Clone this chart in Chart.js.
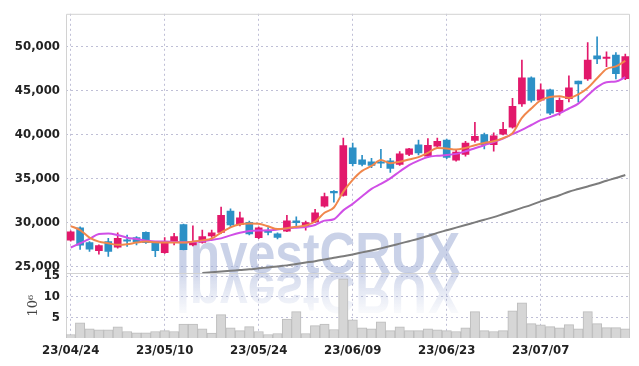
<!DOCTYPE html>
<html>
<head>
<meta charset="utf-8">
<script src="https://cdn.jsdelivr.net/npm/chart.js@4.4.1/dist/chart.umd.min.js"></script>
<style>
  html, body { margin: 0; padding: 0; background: #fff; }
</style>
</head>
<body>
<canvas id="c" width="639" height="366"></canvas>
<script>
// trading days (yy/mm/dd)
const dates = [
  "23/04/24","23/04/25","23/04/26","23/04/27","23/04/28","23/05/02","23/05/03","23/05/04","23/05/08","23/05/09",
  "23/05/10","23/05/11","23/05/12","23/05/15","23/05/16","23/05/17","23/05/18","23/05/19","23/05/22","23/05/23",
  "23/05/24","23/05/25","23/05/26","23/05/30","23/05/31","23/06/01","23/06/02","23/06/05","23/06/07","23/06/08",
  "23/06/09","23/06/12","23/06/13","23/06/14","23/06/15","23/06/16","23/06/19","23/06/20","23/06/21","23/06/22",
  "23/06/23","23/06/26","23/06/27","23/06/28","23/06/29","23/06/30","23/07/03","23/07/04","23/07/05","23/07/06",
  "23/07/07","23/07/10","23/07/11","23/07/12","23/07/13","23/07/14","23/07/17","23/07/18","23/07/19","23/07/20"
];

const opens = [
  27960,29380,27700,26770,27810,27170,28000,28260,28860,27700,
  26540,27700,29750,27440,27730,28450,28860,31290,29750,30000,
  28260,29050,28700,29000,30170,29610,30060,31860,33540,33060,
  38490,37130,36910,36910,37030,36610,37760,38830,37560,38700,
  39380,37100,37740,39350,40000,38860,40060,40850,43500,46470,
  43920,45120,42610,44110,46110,46360,48980,48700,49070,46370
];
const highs = [
  29050,29500,27810,27440,28180,28820,28560,28370,28930,27700,
  28260,28740,29800,29610,29130,29130,31740,31550,31180,30140,
  29500,29420,28820,30810,30620,30140,31500,33350,33620,39610,
  39050,37650,37300,38330,37300,38080,38450,39380,39560,39610,
  39500,38250,39240,41410,40170,40200,41410,44150,48490,46580,
  45790,45200,44190,46690,46110,50480,51160,49440,49360,49170
];
const lows = [
  27850,26910,26690,26380,26120,27060,27250,27440,27590,26090,
  26460,27440,26850,27330,27620,28290,28740,29500,29610,28560,
  28150,28560,28110,28930,29610,29100,29980,31740,32300,32980,
  36430,36430,36250,36240,35700,36500,37590,37680,37400,38520,
  37270,36990,37550,39140,38380,38120,39980,40740,43220,43700,
  43830,42270,42210,43730,43700,46170,48100,47760,46360,46280
];
const closes = [
  28930,27390,26950,27360,26690,28180,27850,27810,27700,26770,
  27660,28370,26900,27730,28370,28820,30810,29700,30510,28680,
  29380,28850,28300,30170,29980,29980,31100,32950,33350,38750,
  36700,36610,36480,36750,36160,37810,38380,37930,38790,39240,
  37400,38000,39050,39800,38860,39870,40620,43240,46470,43890,
  45120,42460,43920,45350,45790,48490,48640,48850,46960,48900
];

// volume, millions of shares
const volumes = [
  0.84,3.66,2.2,1.97,1.97,2.7,1.57,1.25,1.25,1.57,
  1.8,1.57,3.4,3.4,2.2,1.2,5.66,2.45,1.8,2.77,
  1.57,0.84,1.08,4.6,6.4,1.08,3.0,3.4,2.05,14.3,
  4.4,2.45,2.2,3.9,1.8,2.7,1.8,1.8,2.25,1.97,
  1.8,1.57,2.45,6.4,1.8,1.57,1.8,6.6,8.5,3.5,
  3.2,2.77,2.45,3.25,2.2,6.4,3.5,2.5,2.5,2.2
];

// moving averages
const maShort = [
  29575,29125,28260,27810,27620,27440,27500,27700,27810,27730,
  27700,27700,27700,27810,27950,28150,28840,29440,29780,29870,
  29850,29550,29240,29340,29500,29650,30100,31100,31700,33500,
  34850,35870,36430,37100,36750,36900,37170,37440,37930,38490,
  38410,38300,38490,38800,39050,39240,39610,40170,41900,42980,
  43920,44300,44370,44190,44590,45310,46430,47480,47780,48410
];
const maMid = [
  27140,27620,28110,28680,28740,28560,28260,28110,27920,27810,
  27810,27770,27740,27780,27850,28000,28180,28520,28810,29010,
  29080,29100,29190,29310,29400,29480,29700,30200,30360,31370,
  32115,32980,33820,34380,35020,35800,36530,37040,37450,37600,
  37670,37810,38100,38450,38800,39150,39550,40050,40550,41100,
  41650,42000,42420,42980,43540,44480,45420,45980,46050,46550
];
const maLong = [
  null,null,null,null,null,null,null,null,null,null,
  null,null,null,null,24230,24320,24400,24480,24570,24650,
  24760,24870,24980,25100,25260,25420,25580,25770,25970,26140,
  26350,26580,26800,27040,27300,27580,27860,28140,28450,28800,
  29100,29400,29700,30000,30300,30600,30950,31300,31650,32000,
  32400,32750,33100,33500,33800,34100,34400,34750,35050,35400
];

const priceTicks = [25000, 30000, 35000, 40000, 45000, 50000];
const volTicks = [5, 10, 15];

const UP = '#e2186b', DOWN = '#2c90c6';
const gridColor = 'rgba(170,170,200,0.75)';
const tickFont = { family: '"DejaVu Sans Condensed", "Liberation Sans Narrow", sans-serif', size: 13, weight: 'bold' };
const WM = 'InvestCRUX';

const candleColors = opens.map((o, i) => closes[i] >= o ? UP : DOWN);
const wicks = lows.map((l, i) => [l, highs[i]]);
const bodies = opens.map((o, i) => [Math.min(o, closes[i]), Math.max(o, closes[i])]);

const watermark = {
  id: 'watermark',
  beforeDatasetsDraw(chart) {
    const { ctx, chartArea: a } = chart;
    ctx.save();
    ctx.beginPath();
    ctx.rect(a.left, a.top, a.right - a.left, a.bottom - a.top);
    ctx.clip();
    ctx.font = 'bold 58px "Liberation Sans", Arial, sans-serif';
    const w = ctx.measureText(WM).width;
    ctx.translate(318, 273);
    ctx.scale(284 / w, 1);
    ctx.textAlign = 'center';
    ctx.textBaseline = 'alphabetic';
    ctx.fillStyle = 'rgba(150,165,210,0.5)';
    ctx.fillText(WM, 0, 0);
    ctx.scale(1, -1);
    const g = ctx.createLinearGradient(0, 0, 0, -42);
    g.addColorStop(0, 'rgba(150,165,210,0.42)');
    g.addColorStop(1, 'rgba(150,165,210,0.04)');
    ctx.fillStyle = g;
    ctx.fillText(WM, 0, 0);
    ctx.restore();
  }
};

const frame = {
  id: 'frame',
  beforeDatasetsDraw(chart) {
    const { ctx, chartArea: a, scales } = chart;
    const sep = Math.round(scales.yv.top) + 0.5;
    ctx.save();
    ctx.strokeStyle = '#d2d2d2';
    ctx.lineWidth = 1;
    ctx.beginPath();
    ctx.moveTo(a.left + 0.5, a.bottom);
    ctx.lineTo(a.left + 0.5, a.top + 0.5);
    ctx.lineTo(a.right - 0.5, a.top + 0.5);
    ctx.lineTo(a.right - 0.5, a.bottom);
    ctx.moveTo(a.left, sep);
    ctx.lineTo(a.right, sep);
    ctx.stroke();
    ctx.restore();
  }
};

new Chart(document.getElementById('c'), {
  type: 'bar',
  data: {
    labels: dates,
    datasets: [
      { type: 'line', data: maShort, yAxisID: 'y', borderColor: '#f0874c', borderWidth: 2,
        pointRadius: 0, cubicInterpolationMode: 'monotone', order: 0 },
      { type: 'line', data: maMid, yAxisID: 'y', borderColor: '#d04fe6', borderWidth: 2,
        pointRadius: 0, cubicInterpolationMode: 'monotone', order: 0 },
      { type: 'line', data: maLong, yAxisID: 'y', borderColor: '#7c7c7c', borderWidth: 2,
        pointRadius: 0, cubicInterpolationMode: 'monotone', order: 0 },
      { data: bodies, yAxisID: 'y', backgroundColor: candleColors, barThickness: 7,
        grouped: false, borderSkipped: false, order: 1 },
      { data: wicks, yAxisID: 'y', backgroundColor: candleColors, barThickness: 1,
        grouped: false, borderSkipped: false, order: 2 },
      { data: volumes, yAxisID: 'yv', backgroundColor: '#d6d6d6', borderColor: '#bcbcbc',
        borderWidth: 1, barPercentage: 1, categoryPercentage: 1, grouped: false, order: 3 }
    ]
  },
  options: {
    responsive: false,
    animation: false,
    layout: { padding: { top: 9, right: 9, left: 0, bottom: 0 } },
    plugins: { legend: { display: false }, tooltip: { enabled: false } },
    scales: {
      x: {
        offset: true,
        grid: {
          offset: false, drawTicks: false, lineWidth: 1,
          color: c => c.index % 10 === 0 ? gridColor : 'rgba(0,0,0,0)'
        },
        border: { display: false, dash: [2, 3] },
        ticks: {
          autoSkip: false, maxRotation: 0, padding: 5, font: tickFont, color: '#222',
          callback: (v, i) => i % 10 === 0 ? dates[i] : ''
        },
        afterFit: s => { s.height = 28; }
      },
      yv: {
        position: 'left', stack: 'p', stackWeight: 1,
        min: 0, max: 15.7,
        grid: { drawTicks: false, color: gridColor },
        border: { display: false, dash: [2, 3] },
        ticks: { autoSkip: false, padding: 6, font: tickFont, color: '#222', callback: v => String(v) },
        afterBuildTicks: s => { s.ticks = volTicks.map(v => ({ value: v })); },
        title: { display: true, text: '10\u2076', color: '#444',
          font: { family: '"DejaVu Serif", serif', size: 13 }, padding: { top: 26, bottom: 0 } },
        afterFit: s => { s.width = 66; }
      },
      y: {
        position: 'left', stack: 'p', stackWeight: 4,
        min: 24213, max: 53774,
        grid: { drawTicks: false, color: gridColor },
        border: { display: false, dash: [2, 3] },
        ticks: { autoSkip: false, padding: 6, font: tickFont, color: '#222', callback: v => v.toLocaleString('en-US') },
        afterBuildTicks: s => { s.ticks = priceTicks.map(v => ({ value: v })); },
        afterFit: s => { s.width = 66; }
      }
    }
  },
  plugins: [watermark, frame]
});
</script>
</body>
</html>
